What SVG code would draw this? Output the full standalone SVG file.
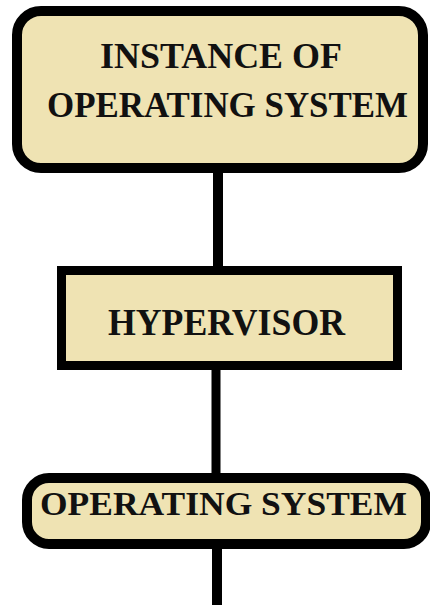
<svg xmlns="http://www.w3.org/2000/svg" width="430" height="605" viewBox="0 0 430 605">
  <style>
    .node { fill: #EFE3B3; stroke: #000; }
    .lbl { font-family: "Liberation Serif", "Times New Roman", serif; font-weight: bold; fill: #111; }
    .conn { stroke: #000; fill: none; }
  </style>
  <rect width="430" height="605" fill="#fff"/>
  <g id="connectors">
    <line class="conn" x1="218" y1="168" x2="218" y2="271" stroke-width="10"/>
    <line class="conn" x1="216" y1="365" x2="216" y2="478" stroke-width="9"/>
    <line class="conn" x1="217" y1="544" x2="217" y2="605" stroke-width="10"/>
  </g>
  <g id="instance">
    <rect class="node" x="17" y="11" width="406" height="157" rx="24" stroke-width="10"/>
    <text class="lbl" x="100" y="68" font-size="36" textLength="242" lengthAdjust="spacingAndGlyphs">INSTANCE OF</text>
    <text class="lbl" x="47" y="117" font-size="36" textLength="361" lengthAdjust="spacingAndGlyphs">OPERATING SYSTEM</text>
  </g>
  <g id="hypervisor">
    <rect class="node" x="61.5" y="270.5" width="336" height="95" stroke-width="9"/>
    <text class="lbl" x="108" y="335" font-size="38" textLength="237" lengthAdjust="spacingAndGlyphs">HYPERVISOR</text>
  </g>
  <g id="os">
    <rect class="node" x="27" y="478" width="399" height="66" rx="22" stroke-width="10"/>
    <text class="lbl" x="40" y="515" font-size="34" textLength="367" lengthAdjust="spacingAndGlyphs">OPERATING SYSTEM</text>
  </g>
</svg>
